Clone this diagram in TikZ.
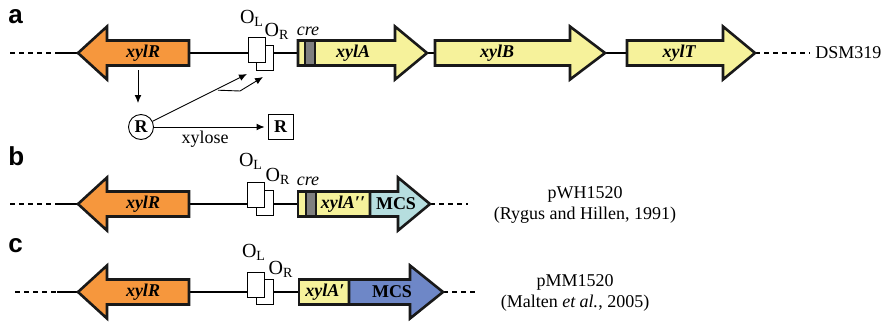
\documentclass[tikz,border=0pt]{standalone}
\usepackage{fontspec}
\setmainfont{Liberation Serif}
\newfontfamily\panelfont{Liberation Sans}
\usetikzlibrary{arrows.meta}
\usetikzlibrary{positioning}

\definecolor{repcolor}{HTML}{F6973D}
\definecolor{xylcolor}{HTML}{F6F29B}
\definecolor{mcscyan}{HTML}{B6DEDF}
\definecolor{mcsblue}{HTML}{6E87C7}
\definecolor{crecolor}{HTML}{7F7F7F}

% gene as block arrow: tail x, head base x, tip x, axis y, fill
\newcommand{\genearrow}[5]{%
  \draw[gene arrow,fill=#5] (#1,#4-12.5) -- (#2,#4-12.5) -- (#2,#4-26.5) -- (#3,#4)
    -- (#2,#4+26.5) -- (#2,#4+12.5) -- (#1,#4+12.5) -- cycle;}
% plain gene part: left x, right x, axis y, fill
\newcommand{\genepart}[4]{%
  \draw[gene arrow,fill=#4] (#1,#3-12.5) rectangle (#2,#3+12.5);}

\begin{document}
\begin{tikzpicture}[x=0.5pt,y=-0.5pt,>={Latex[length=4pt,width=3.4pt]},
    gene arrow/.style={draw=black!90,line width=1.3pt,line join=miter},
    backbone/.style={line width=0.85pt},
    dotted end/.style={line width=0.85pt,dash pattern=on 2.5pt off 2pt},
    op box/.style={rectangle,draw,fill=white,line width=0.45pt,inner sep=0pt,minimum width=8.5pt,minimum height=12.5pt},
    reg arrow/.style={->,line width=0.45pt},
    gene label/.style={font=\bfseries\itshape\fontsize{9}{10}\selectfont,inner sep=0pt},
    mcs label/.style={font=\bfseries\fontsize{9}{10}\selectfont,inner sep=0pt},
    op label/.style={font=\fontsize{10}{11}\selectfont,inner sep=0pt},
    cre label/.style={font=\itshape\fontsize{9}{10}\selectfont,inner sep=0pt},
    plain label/.style={font=\fontsize{9}{10.5}\selectfont,inner sep=0pt,align=center},
    panel label/.style={font=\panelfont\bfseries\fontsize{13}{13}\selectfont,inner sep=0pt,anchor=base west},
    rep node/.style={draw,line width=0.45pt,inner sep=0pt,minimum size=12.5pt,font=\bfseries\fontsize{9}{10}\selectfont}]
  \useasboundingbox (0,0) rectangle (886,321);

  % ---- a: chromosomal xyl locus
  \node[panel label] (pa) at (8,23) {a};
  \coordinate (a0) at (10,53);   \coordinate (a1) at (57,53);
  \coordinate (aRt) at (78,53);  \coordinate (aRe) at (189,53);
  \coordinate (aAs) at (298,53); \coordinate (aAt) at (427,53);
  \coordinate (aBs) at (435,53); \coordinate (aBt) at (605,53);
  \coordinate (aTs) at (627,53); \coordinate (aTt) at (755,53);
  \coordinate (a9) at (810,53);
  \draw[dotted end] (a0) -- (a1);
  \draw[backbone] (a1) -- (aRt);
  \draw[backbone] (aRe) -- (aAs);
  \draw[backbone] (aAt) -- (aBs);
  \draw[backbone] (aBt) -- (aTs);
  \draw[dotted end] (aTt) -- (a9);
  \node[op box] (ORa) at (265,58) {};
  \node[op box] (OLa) at (256.5,49.5) {};
  \genearrow{189}{107}{78}{53}{repcolor}
  \genearrow{298}{395}{427}{53}{xylcolor}
  \genepart{305}{315}{53}{crecolor}
  \genearrow{435}{570}{605}{53}{xylcolor}
  \genearrow{627}{723}{755}{53}{xylcolor}
  \node[gene label] (xRa) at (143,53) {xylR};
  \node[gene label] (xA) at (353,53) {xylA};
  \node[gene label] (xB) at (497,53) {xylB};
  \node[gene label] (xT) at (679,53) {xylT};
  \node[op label] (lOLa) at (252,18) {O\textsubscript{L}};
  \node[op label] (lORa) at (277,31) {O\textsubscript{R}};
  \node[cre label] (crea) at (308,31) {cre};
  \node[plain label,anchor=west] (dsm) at (815,53) {DSM319};

  % regulation by XylR and xylose
  \coordinate (rdown) at (138,70);
  \node[rep node,circle] (R) at (141,127) {R};
  \node[rep node,rectangle] (Rfree) at (280.5,127) {R};
  \coordinate (tipL) at (247,74);
  \coordinate (bendA) at (218,90.2);
  \coordinate (bendB) at (240,91);
  \coordinate (tipR) at (263,77);
  \draw[reg arrow,shorten >=5.5pt] (rdown) -- (rdown |- R.north);
  \draw[reg arrow] (R) -- (tipL);
  \draw[reg arrow] (bendA) -- (bendB) -- (tipR);
  \draw[reg arrow,shorten >=1.5pt] (R) -- (Rfree);
  \node[plain label] (xylose) at (205,139) {xylose};

  % ---- b: pWH1520
  \node[panel label] (pb) at (8,165) {b};
  \coordinate (b0) at (10,204);   \coordinate (b1) at (57,204);
  \coordinate (bRt) at (78,204);  \coordinate (bRe) at (189,204);
  \coordinate (bAs) at (298,204); \coordinate (bMt) at (430,204);
  \coordinate (b9) at (468,204);
  \draw[dotted end] (b0) -- (b1);
  \draw[backbone] (b1) -- (bRt);
  \draw[backbone] (bRe) -- (bAs);
  \draw[dotted end] (bMt) -- (b9);
  \node[op box] (ORb) at (264.5,202.5) {};
  \node[op box] (OLb) at (255.5,194.5) {};
  \genearrow{189}{107}{78}{204}{repcolor}
  \genepart{298}{370}{204}{xylcolor}
  \genepart{306}{316}{204}{crecolor}
  \genearrow{370}{398}{430}{204}{mcscyan}
  \node[gene label] (xRb) at (143,204) {xylR};
  \node[gene label] (xAb) at (343,204) {xylA′′};
  \node[mcs label] (mcsb) at (396,204) {MCS};
  \node[op label] (lOLb) at (251,161) {O\textsubscript{L}};
  \node[op label] (lORb) at (278,176) {O\textsubscript{R}};
  \node[cre label] (creb) at (308,181) {cre};
  \node[plain label] (pwh) at (585,205) {pWH1520\\(Rygus and Hillen, 1991)};

  % ---- c: pMM1520
  \node[panel label] (pc) at (8,252) {c};
  \coordinate (c0) at (15,292);   \coordinate (c1) at (57,292);
  \coordinate (cRt) at (78,292);  \coordinate (cRe) at (189,292);
  \coordinate (cAs) at (299,292); \coordinate (cMt) at (443,292);
  \coordinate (c9) at (477,292);
  \draw[dotted end] (c0) -- (c1);
  \draw[backbone] (c1) -- (cRt);
  \draw[backbone] (cRe) -- (cAs);
  \draw[dotted end] (cMt) -- (c9);
  \node[op box] (ORc) at (264.5,291.5) {};
  \node[op box] (OLc) at (255.5,284.5) {};
  \genearrow{189}{107}{78}{292}{repcolor}
  \genepart{299}{349}{292}{xylcolor}
  \genearrow{349}{410}{443}{292}{mcsblue}
  \node[gene label] (xRc) at (143,292) {xylR};
  \node[gene label] (xAc) at (325,292) {xylA′};
  \node[mcs label] (mcsc) at (392,292) {MCS};
  \node[op label] (lOLc) at (254,252) {O\textsubscript{L}};
  \node[op label] (lORc) at (281,269) {O\textsubscript{R}};
  \node[plain label] (pmm) at (575,293) {pMM1520\\(Malten \textit{et al.}, 2005)};
\end{tikzpicture}
\end{document}
